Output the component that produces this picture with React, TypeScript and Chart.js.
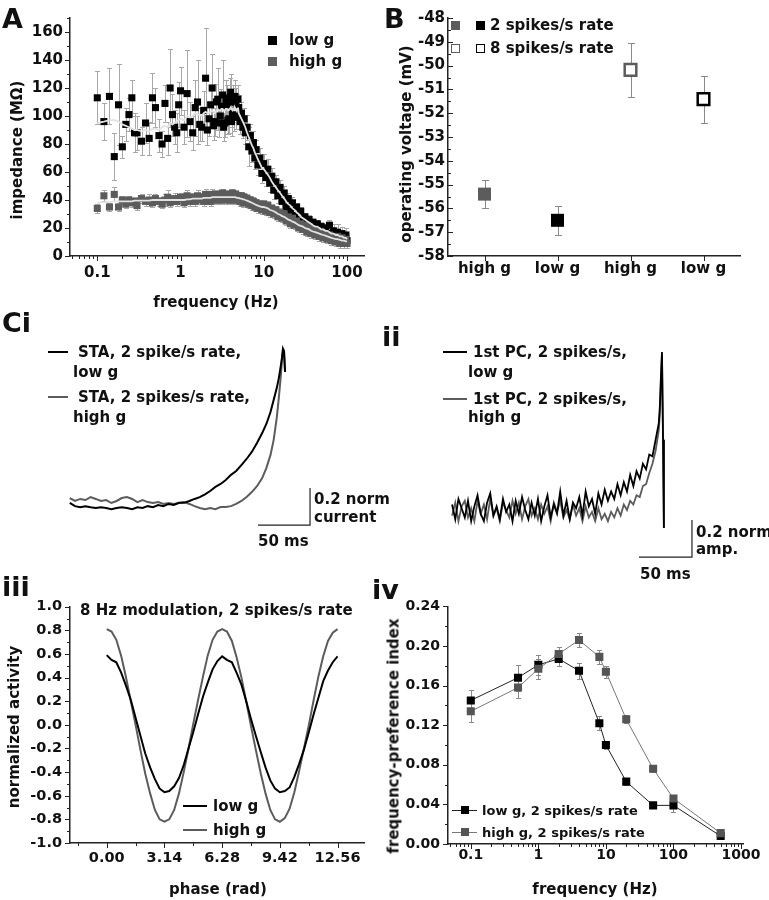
import React, { useEffect, useRef } from 'react';
import { Chart, registerables } from 'chart.js';

Chart.register(...registerables);

const FONT = 'DejaVu Sans';
const INK = '#111';
const GREY = '#5c5c5c';
const LIGHT = '#a8a8a8';

// ---------------- Panel A: impedance vs frequency ----------------
const freqA = [0.1,0.12,0.14,0.16,0.18,0.2,0.22,0.24,0.26,0.28,0.3,0.34,0.38,0.42,0.46,0.5,0.55,0.6,0.65,0.7,0.75,0.8,0.85,0.9,0.95,
  1.0,1.1,1.2,1.3,1.4,1.5,1.6,1.7,1.8,1.9,2.0,2.1,2.2,2.3,2.4,2.5,2.6,2.7,2.8,2.9,3.0,3.1,3.2,3.3,3.4,3.5,3.6,3.7,3.8,3.9,4.0,4.1,4.2,4.3,4.4,4.5,4.6,4.7,4.8,4.9,
  5.0,5.2,5.4,5.6,5.8,6.0,6.3,6.6,6.9,7.2,7.5,7.8,8.1,8.5,9.0,9.5,
  10,10.6,11.2,11.8,12.5,13.2,14,14.8,15.7,16.6,17.6,18.6,19.7,20.9,22.1,23.4,24.8,26.3,27.8,29.5,31.2,33,35,37,39,41.5,44,46.5,49,52,55,58,61.5,65,69,73,77,82,87,92,97,100];
const lowG = [113,96,114,71,108,78,94,101,113,88,88,82,95,84,113,106,86,80,109,84,120,101,92,88,108,
  118,92,116,96,88,106,110,94,92,104,127,90,98,108,120,93,96,110,112,95,100,107,115,92,95,112,108,97,98,113,117,96,102,110,99,114,110,100,106,112,
  106,96,102,92,98,88,92,78,86,75,81,70,76,65,70,59,
  66,56,62,52,57,47,53,43,49,39,45,35,41,32,38,29,35,26,32,23,28,23,26,21,24,19,23,18,21,17,20,16,22,14,18,13,17,12,16,11,15,11];
const lowGErr = [19,13,20,17,29,8,12,12,13,14,12,10,14,12,18,14,12,9,13,12,28,15,12,14,16,
  17,12,31,14,12,20,30,12,10,14,36,11,12,13,24,10,10,13,22,10,10,12,25,10,10,14,14,10,10,14,13,10,10,12,10,12,10,9,10,10,
  9,9,8,8,8,8,9,14,8,8,8,8,7,7,7,7,
  7,6,7,6,6,6,5,5,5,5,5,4,4,4,4,4,3,3,3,3,3,3,3,3,3,3,3,3,3,3,3,4,4,5,5,6,6,5,5,5,5,4];
const lowGMean = [95,96,97,97,96,94,93,92,91,90,90,89,90,89,91,91,90,92,93,92,95,94,95,96,97,
  98,97,100,99,100,102,101,101,100,102,103,102,102,103,104,103,102,104,105,104,104,105,105,104,104,105,105,104,104,105,106,105,104,105,104,106,105,104,105,106,
  102,100,98,96,94,92,88,85,82,79,77,74,72,69,66,63,
  62,60,58,56,53,51,49,47,45,43,41,39,37,36,34,33,31,30,28,27,26,25,24,23,22,21,21,20,19,19,18,18,17,16,16,15,15,14,14,13,13,12];
const highG = [34,43,35,44,35,40,37,40,38,39,36,41,39,40,38,41,39,37,40,42,38,40,41,39,41,
  42,38,43,39,42,39,43,40,42,39,44,40,43,39,44,41,44,40,43,40,44,40,45,41,43,40,44,41,43,40,44,41,45,40,43,41,44,40,43,41,
  43,39,43,38,42,38,41,37,40,36,39,35,38,34,37,33,
  37,32,36,31,34,30,33,28,31,27,30,25,28,23,27,22,25,20,23,19,22,17,21,16,19,15,18,14,17,13,16,12,15,11,14,10,14,9,13,9,12,9];
const highGErr = [3,4,3,5,3,3,3,3,3,3,3,3,3,4,3,3,3,3,4,5,3,3,4,3,3,
  3,3,4,3,3,3,4,3,3,3,4,3,3,3,4,3,3,3,4,3,3,3,3,4,3,3,3,3,4,3,3,3,3,3,4,3,3,3,3,3,
  3,3,3,3,3,3,3,3,3,3,3,3,3,3,3,3,
  3,3,3,3,3,3,3,3,3,3,3,3,3,3,3,3,3,3,3,3,3,3,3,3,3,3,3,3,3,3,3,3,3,3,3,3,3,3,3,3,3,3];
const highGMean = [38,38.5,38.5,39,39,39,39,39,39,39.5,39.5,39.5,39.5,39.5,40,40,40,40,40,40,40,40,40,40,40,
  40,40,40.5,40.5,41,41,41,41,41,41.5,41.5,41.5,41.5,41.5,42,42,42,42,42,42,42,42,42,42,42,42,42,42,42,42,42,42,42,42,42,42,42,41.5,41.5,41.5,
  41.5,41,41,40.5,40.5,40,39.5,39,38.5,38,37.5,37,36.5,36,35.5,35,
  35,34.5,34,33,32.5,32,31,30,29.5,28.5,28,27,26,25.5,24.5,24,23,22,21.5,21,20,19.5,19,18,17.5,17,16.5,16,15.5,15,14.5,14,13.5,13,12.5,12,12,11.5,11,11,10.5,10.5];
const aXTicks = [0.1, 1, 10, 100];
const aXMinor = [0.05,0.06,0.07,0.08,0.09,0.2,0.3,0.4,0.5,0.6,0.7,0.8,0.9,2,3,4,5,6,7,8,9,20,30,40,50,60,70,80,90];
const aYTicks = [0,20,40,60,80,100,120,140,160];
const aYMinor = [10,30,50,70,90,110,130,150,170];

// ---------------- Panel B: operating voltage ----------------
const bCats = ['high g', 'low g', 'high g', 'low g'];
const bRate2 = [-55.4, -56.5];
const bRate2Err = [0.6, 0.62];
const bRate8 = [-50.18, -51.41];
const bRate8Err = [1.12, 0.99];
const bYTicks = [-58,-57,-56,-55,-54,-53,-52,-51,-50,-49,-48];
const bYMinor = [-57.5,-56.5,-55.5,-54.5,-53.5,-52.5,-51.5,-50.5,-49.5,-48.5];
const bXTicks = [1, 2, 3, 4];

// ---------------- Panel Ci: STA ----------------
const tCi = [-205,-200,-195,-190,-185,-180,-175,-170,-165,-160,-155,-150,-145,-140,-135,-130,-125,-120,-115,-110,-105,-100,-95,-90,-85,-80,-75,-70,-65,-60,-55,-50,-45,-40,-35,-30,-25,-20,-16,-12,-9,-6,-4,-2,-1,0,1,2];
const staLow = [0.012,-0.006,-0.012,-0.006,-0.012,-0.016,-0.012,-0.016,-0.022,-0.016,
  -0.012,-0.016,-0.022,-0.012,-0.016,-0.006,-0.012,0,-0.006,0.006,
  0,0.012,0.012,0.022,0.033,0.043,0.058,0.076,0.098,0.114,
  0.135,0.163,0.184,0.216,0.249,0.287,0.335,0.389,0.438,0.503,
  0.567,0.632,0.686,0.756,0.795,0.843,0.827,0.719];
const staHigh = [0.038,0.022,0.033,0.027,0.043,0.033,0.022,0.027,0.011,0.022,
  0.038,0.043,0.033,0.016,0.027,0.016,0.011,0.016,0.006,0.011,
  0.006,0.011,0.016,0.006,-0.006,-0.016,-0.022,-0.016,-0.022,-0.011,
  -0.011,-0.006,0.006,0.022,0.043,0.07,0.102,0.146,0.2,0.271,
  0.351,0.471,0.579,0.703,0.783,0.843,0.837,0.719];
const barCi = [-24, -0.108, 50, 0.2]; // start ms, start norm, 50 ms, 0.2 norm

// ---------------- Panel ii: 1st PC ----------------
const tPc = [-198,-195,-192,-189,-186,-183,-180,-177,-174,-171,-168,-165,-162,-159,-156,-153,-150,-147,-144,-141,-138,-135,-132,-129,-126,-123,-120,-117,-114,-111,-108,-105,-102,-99,-96,-93,-90,-87,-84,-81,-78,-75,-72,-69,-66,-63,-60,-57,-54,-51,-48,-45,-42,-39,-36,-33,-30,-27,-24,-21,-18,-15,-12,-9,-6,-3,-2,-1,0,1,1.8];
const pcLow = [0.03,-0.05,0.06,0.01,-0.04,0.05,-0.06,0.02,0.08,-0.02,
  -0.06,0.04,0.09,-0.03,0.02,-0.05,0.06,-0.01,0.03,-0.06,
  0.05,-0.02,0.07,0.0,-0.05,0.04,-0.03,0.06,-0.06,0.02,
  0.08,-0.04,0.03,-0.02,0.1,-0.03,0.05,-0.05,0.04,0.01,
  0.07,-0.03,0.1,0.02,0.06,-0.02,0.09,0.03,0.11,0.05,
  0.1,0.06,0.14,0.08,0.15,0.1,0.19,0.13,0.21,0.17,
  0.25,0.22,0.3,0.29,0.38,0.47,0.56,0.72,0.854,0.38,-0.097];
const pcHigh = [-0.03,0.04,-0.06,0.02,0.05,-0.04,0.01,-0.06,0.05,-0.02,
  0.03,-0.05,0.06,-0.03,0.01,-0.06,0.04,0.0,-0.04,0.05,
  -0.02,0.04,-0.05,0.02,0.06,-0.03,0.01,-0.05,0.03,-0.02,
  0.02,-0.06,0.04,-0.01,0.05,-0.04,0.0,-0.05,0.03,-0.03,
  0.01,-0.06,0.02,-0.04,-0.01,-0.06,0.01,-0.05,-0.02,-0.06,
  -0.01,-0.04,0.01,-0.03,0.03,0.0,0.05,0.03,0.08,0.07,
  0.13,0.14,0.2,0.25,0.32,0.43,0.52,0.7,0.84,0.38,-0.097];
const barPc = [-21.7, -0.254, 50, 0.2];

// ---------------- Panel iii: 8 Hz modulation ----------------
const phase = [0,0.26,0.52,0.79,1.05,1.31,1.57,1.83,2.09,2.36,2.62,2.88,3.14,3.4,3.67,3.93,4.19,4.45,4.71,4.97,5.24,5.5,5.76,6.02,6.28,
  6.54,6.81,7.07,7.33,7.59,7.85,8.11,8.38,8.64,8.9,9.16,9.42,9.69,9.95,10.21,10.47,10.73,11.0,11.26,11.52,11.78,12.04,12.3,12.56];
const modHigh = [0.81,0.79,0.72,0.58,0.40,0.20,0.00,-0.21,-0.41,-0.58,-0.72,-0.80,-0.82,
  -0.80,-0.72,-0.58,-0.40,-0.20,0.01,0.21,0.41,0.59,0.72,0.79,0.81,
  0.79,0.71,0.57,0.40,0.20,-0.01,-0.21,-0.41,-0.58,-0.72,-0.80,-0.82,
  -0.79,-0.71,-0.57,-0.39,-0.20,0.00,0.21,0.41,0.58,0.71,0.78,0.81];
const modLow = [0.59,0.55,0.53,0.44,0.33,0.21,0.06,-0.09,-0.24,-0.36,-0.46,-0.54,-0.57,
  -0.56,-0.52,-0.45,-0.34,-0.20,-0.06,0.09,0.24,0.36,0.47,0.54,0.58,
  0.55,0.53,0.44,0.34,0.20,0.05,-0.09,-0.23,-0.36,-0.47,-0.54,-0.57,
  -0.56,-0.53,-0.44,-0.33,-0.21,-0.06,0.09,0.23,0.37,0.46,0.53,0.58];
const iiiXTicks = [0, 3.14, 6.28, 9.42, 12.56];
const iiiXMinor = [-1.57, 1.57, 4.71, 7.85, 10.99];
const iiiYTicks = [-1,-0.8,-0.6,-0.4,-0.2,0,0.2,0.4,0.6,0.8,1];
const iiiYMinor = [-0.9,-0.7,-0.5,-0.3,-0.1,0.1,0.3,0.5,0.7,0.9];

// ---------------- Panel iv: frequency-preference index ----------------
const ivFreq = [0.1,0.5,1,2,4,8,10,20,50,100,500];
const ivLow = [0.145,0.168,0.181,0.187,0.175,0.122,0.100,0.063,0.039,0.039,0.008];
const ivLowErr = [0.011,0.013,0.010,0.007,0.008,0.007,0.004,0.003,0.003,0.007,0.002];
const ivHigh = [0.134,0.158,0.177,0.192,0.206,0.189,0.174,0.126,0.076,0.046,0.011];
const ivHighErr = [0.011,0.011,0.010,0.007,0.007,0.007,0.006,0.004,0.003,0.004,0.002];
const ivXTicks = [0.1, 1, 10, 100, 1000];
const ivXMinor = [0.05,0.06,0.07,0.08,0.09,0.2,0.3,0.4,0.5,0.6,0.7,0.8,0.9,2,3,4,5,6,7,8,9,20,30,40,50,60,70,80,90,200,300,400,500,600,700,800,900];
const ivYTicks = [0,0.04,0.08,0.12,0.16,0.2,0.24];
const ivYMinor = [0.02,0.06,0.1,0.14,0.18,0.22];

// ---------------- helpers ----------------
const pts = (xs: number[], ys: number[]) => xs.map((x, i) => ({ x, y: ys[i] }));

const errorBars = {
  id: 'errorBars',
  beforeDatasetsDraw(chart: any) {
    const ctx = chart.ctx;
    chart.data.datasets.forEach((ds: any, i: number) => {
      if (!ds.errPlus) return;
      const meta = chart.getDatasetMeta(i);
      const xs = chart.scales[meta.xAxisID];
      const ys = chart.scales[meta.yAxisID];
      ctx.save();
      ctx.strokeStyle = ds.errColor || '#999';
      ctx.lineWidth = 1;
      const cap = ds.errCap ?? 3;
      ds.data.forEach((p: any, j: number) => {
        const up = ds.errPlus[j];
        const dn = (ds.errMinus || ds.errPlus)[j];
        const px = Math.round(xs.getPixelForValue(p.x)) + 0.5;
        const y1 = Math.round(ys.getPixelForValue(p.y + up)) + 0.5;
        const y2 = Math.round(ys.getPixelForValue(p.y - dn)) + 0.5;
        ctx.beginPath();
        ctx.moveTo(px, y1); ctx.lineTo(px, y2);
        ctx.moveTo(px - cap, y1); ctx.lineTo(px + cap, y1);
        ctx.moveTo(px - cap, y2); ctx.lineTo(px + cap, y2);
        ctx.stroke();
      });
      ctx.restore();
    });
  },
};

function tickPlugin(spec: any) {
  return {
    id: 'tickMarks',
    afterDraw(chart: any) {
      const ctx = chart.ctx;
      ctx.save();
      ctx.strokeStyle = '#222';
      ctx.lineWidth = 1;
      ['x', 'y'].forEach((ax) => {
        const s = spec[ax];
        if (!s) return;
        const sc = chart.scales[ax];
        const sign = s.inward ? -1 : 1;
        const put = (vals: number[], len: number) => vals.forEach((v) => {
          const p = sc.getPixelForValue(v);
          ctx.beginPath();
          if (ax === 'x') {
            const px = Math.round(p) + 0.5;
            const y0 = chart.chartArea.bottom;
            ctx.moveTo(px, y0); ctx.lineTo(px, y0 + sign * len);
          } else {
            const py = Math.round(p) + 0.5;
            const x0 = chart.chartArea.left;
            ctx.moveTo(x0, py); ctx.lineTo(x0 - sign * len, py);
          }
          ctx.stroke();
        });
        put(s.major, 5);
        put(s.minor || [], 3);
      });
      ctx.restore();
    },
  };
}

function scaleBarPlugin(bar: number[]) {
  return {
    id: 'scaleBar',
    afterDatasetsDraw(chart: any) {
      const { x, y } = chart.scales;
      const ctx = chart.ctx;
      const X0 = x.getPixelForValue(bar[0]);
      const X1 = x.getPixelForValue(bar[0] + bar[2]);
      const Y0 = y.getPixelForValue(bar[1]);
      const Y1 = y.getPixelForValue(bar[1] + bar[3]);
      ctx.save();
      ctx.strokeStyle = '#222';
      ctx.lineWidth = 1.2;
      ctx.beginPath();
      ctx.moveTo(X0, Y0); ctx.lineTo(X1, Y0); ctx.lineTo(X1, Y1);
      ctx.stroke();
      ctx.restore();
    },
  };
}

function axis(o: any) {
  return {
    type: o.type || 'linear',
    min: o.min,
    max: o.max,
    grid: { display: false, drawTicks: false },
    border: { display: true, color: '#222', width: 1.5 },
    ticks: {
      autoSkip: false, maxRotation: 0, minRotation: 0, padding: o.pad, color: INK,
      font: { family: FONT, size: o.size, weight: 'bold' },
      callback: (v: any, i: number) => o.fmt(v, i),
    },
    afterBuildTicks: (s: any) => { s.ticks = o.ticks.map((v: number) => ({ value: v })); },
    afterFit: (s: any) => {
      if (o.fitW != null) s.width = o.fitW;
      if (o.fitH != null) s.height = o.fitH;
    },
  };
}

function baseOptions(padding: any, scales: any) {
  return {
    responsive: false,
    animation: false,
    events: [],
    layout: { padding, autoPadding: false },
    plugins: { legend: { display: false }, tooltip: { enabled: false } },
    scales,
  };
}

const hidden = (min: number, max: number) => ({ type: 'linear', display: false, min, max });

// ---------------- chart configs ----------------
const cfgA = () => ({
  type: 'scatter',
  data: {
    datasets: [
      { label: 'low g mean', data: pts(freqA, lowGMean), showLine: true, pointRadius: 0, borderColor: '#e2e2e2', borderWidth: 1.8, order: 0 },
      { label: 'high g mean', data: pts(freqA, highGMean), showLine: true, pointRadius: 0, borderColor: '#e2e2e2', borderWidth: 1.8, order: 0 },
      { label: 'high g', data: pts(freqA, highG), pointStyle: 'rect', pointRadius: 5, backgroundColor: GREY, borderColor: GREY, borderWidth: 0, errPlus: highGErr, errColor: LIGHT, errCap: 2.5, order: 1 },
      { label: 'low g', data: pts(freqA, lowG), pointStyle: 'rect', pointRadius: 5, backgroundColor: '#000', borderColor: '#000', borderWidth: 0, errPlus: lowGErr, errColor: LIGHT, errCap: 2.5, order: 2 },
    ],
  },
  options: baseOptions({ top: 18, right: 16, left: 0, bottom: 0 }, {
    x: axis({ type: 'logarithmic', min: 0.047, max: 160, ticks: aXTicks, fmt: (v: number) => String(v), size: 15, pad: 8, fitH: 44 }),
    y: axis({ min: 0, max: 170, ticks: aYTicks, fmt: (v: number) => String(v), size: 15, pad: 7, fitW: 70 }),
  }),
  plugins: [errorBars, tickPlugin({ x: { major: aXTicks, minor: aXMinor }, y: { major: aYTicks, minor: aYMinor } })],
});

const cfgB = () => ({
  type: 'scatter',
  data: {
    datasets: [
      {
        label: '2 spikes/s rate', data: pts([1, 2], bRate2), pointStyle: 'rect', pointRadius: 9.2,
        backgroundColor: [GREY, '#000'], borderColor: [GREY, '#000'], borderWidth: 0,
        errPlus: bRate2Err, errColor: '#8a8a8a', errCap: 3.5,
      },
      {
        label: '8 spikes/s rate', data: pts([3, 4], bRate8), pointStyle: 'rect', pointRadius: 8.2,
        backgroundColor: '#fff', borderColor: [GREY, '#000'], borderWidth: 2.5,
        errPlus: bRate8Err, errColor: '#8a8a8a', errCap: 3.5,
      },
    ],
  },
  options: baseOptions({ top: 18, right: 29, left: 0, bottom: 0 }, {
    x: axis({ min: 0.5, max: 4.5, ticks: bXTicks, fmt: (_v: number, i: number) => bCats[i], size: 15, pad: 4, fitH: 44 }),
    y: axis({ min: -58, max: -48, ticks: bYTicks, fmt: (v: number) => String(v), size: 15, pad: 3, fitW: 68 }),
  }),
  plugins: [errorBars, tickPlugin({ x: { major: bXTicks }, y: { major: bYTicks, minor: bYMinor, inward: true } })],
});

const cfgCi = () => ({
  type: 'scatter',
  data: {
    datasets: [
      { label: 'STA, 2 spike/s rate, low g', data: pts(tCi, staLow), showLine: true, pointRadius: 0, borderColor: '#000', borderWidth: 2, order: 0 },
      { label: 'STA, 2 spikes/s rate, high g', data: pts(tCi, staHigh), showLine: true, pointRadius: 0, borderColor: GREY, borderWidth: 2, order: 1 },
    ],
  },
  options: baseOptions(0, { x: hidden(-214.4, 45.2), y: hidden(-0.297, 0.946) }),
  plugins: [scaleBarPlugin(barCi)],
});

const cfgPc = () => ({
  type: 'scatter',
  data: {
    datasets: [
      { label: '1st PC, 2 spikes/s, low g', data: pts(tPc, pcLow), showLine: true, pointRadius: 0, borderColor: '#000', borderWidth: 1.8, order: 0 },
      { label: '1st PC, 2 spikes/s, high g', data: pts(tPc, pcHigh), showLine: true, pointRadius: 0, borderColor: GREY, borderWidth: 1.8, order: 1 },
    ],
  },
  options: baseOptions(0, { x: hidden(-209.4, 45.3), y: hidden(-0.324, 0.973) }),
  plugins: [scaleBarPlugin(barPc)],
});

const cfgIii = () => ({
  type: 'scatter',
  data: {
    datasets: [
      { label: 'low g', data: pts(phase, modLow), showLine: true, pointRadius: 0, borderColor: '#000', borderWidth: 2, order: 0 },
      { label: 'high g', data: pts(phase, modHigh), showLine: true, pointRadius: 0, borderColor: GREY, borderWidth: 2, order: 1 },
    ],
  },
  options: baseOptions({ top: 16, right: 16, left: 0, bottom: 0 }, {
    x: axis({ min: -2.0, max: 14.0, ticks: iiiXTicks, fmt: (v: number) => v.toFixed(2), size: 14.5, pad: 7, fitH: 57 }),
    y: axis({ min: -1, max: 1, ticks: iiiYTicks, fmt: (v: number) => v.toFixed(1), size: 14.5, pad: 8, fitW: 70 }),
  }),
  plugins: [tickPlugin({ x: { major: iiiXTicks, minor: iiiXMinor }, y: { major: iiiYTicks, minor: iiiYMinor } })],
});

const cfgIv = () => ({
  type: 'scatter',
  data: {
    datasets: [
      {
        label: 'low g, 2 spikes/s rate', data: pts(ivFreq, ivLow), showLine: true, borderColor: '#222', borderWidth: 1,
        pointStyle: 'rect', pointRadius: 5.7, pointBackgroundColor: '#000', pointBorderColor: '#000', pointBorderWidth: 0,
        errPlus: ivLowErr, errColor: '#8a8a8a', errCap: 2.5, order: 1,
      },
      {
        label: 'high g, 2 spikes/s rate', data: pts(ivFreq, ivHigh), showLine: true, borderColor: '#777', borderWidth: 1,
        pointStyle: 'rect', pointRadius: 5.7, pointBackgroundColor: '#555', pointBorderColor: '#555', pointBorderWidth: 0,
        errPlus: ivHighErr, errColor: '#8a8a8a', errCap: 2.5, order: 0,
      },
    ],
  },
  options: baseOptions({ top: 13, right: 26, left: 0, bottom: 0 }, {
    x: axis({ type: 'logarithmic', min: 0.046, max: 1070, ticks: ivXTicks, fmt: (v: number) => String(v), size: 14, pad: 3, fitH: 56 }),
    y: axis({ min: 0, max: 0.24, ticks: ivYTicks, fmt: (v: number) => v.toFixed(2), size: 14, pad: 8, fitW: 68 }),
  }),
  plugins: [errorBars, tickPlugin({ x: { major: ivXTicks, minor: ivXMinor }, y: { major: ivYTicks, minor: ivYMinor } })],
});

// ---------------- components ----------------
function ChartBox({ left, top, width, height, make }: any) {
  const ref = useRef<HTMLCanvasElement>(null);
  useEffect(() => {
    const chart = new Chart(ref.current as any, make() as any);
    return () => chart.destroy();
  }, []);
  return (
    <canvas ref={ref} width={width} height={height}
      style={{ position: 'absolute', left, top, width, height, display: 'block' }} />
  );
}

function Txt({ x, y, s = 15, rot = false, center = false, children }: any) {
  const style: any = {
    position: 'absolute', left: x, top: y, fontFamily: FONT, fontWeight: 'bold', fontSize: s,
    lineHeight: `${s}px`, color: INK, whiteSpace: 'nowrap',
  };
  if (rot) style.transform = 'translate(-50%, -50%) rotate(-90deg)';
  else if (center) style.transform = 'translate(-50%, -50%)';
  else style.transform = 'translateY(-50%)';
  return <div style={style}>{children}</div>;
}

function HLine({ x1, x2, y, color, w = 1.5 }: any) {
  return <div style={{ position: 'absolute', left: x1, top: y - w / 2, width: x2 - x1, height: w, background: color }} />;
}

function Sq({ cx, cy, s, fill, stroke, bw = 0 }: any) {
  return (
    <div style={{
      position: 'absolute', left: cx - s / 2, top: cy - s / 2, width: s, height: s, boxSizing: 'border-box',
      background: fill, border: bw ? `${bw}px solid ${stroke}` : 'none',
    }} />
  );
}

export default function App() {
  return (
    <div style={{ position: 'absolute', left: 0, top: 0, width: 769, height: 900, background: '#fff', overflow: 'hidden' }}>
      <ChartBox left={0} top={0} width={380} height={300} make={cfgA} />
      <ChartBox left={380} top={0} width={389} height={300} make={cfgB} />
      <ChartBox left={60} top={330} width={270} height={230} make={cfgCi} />
      <ChartBox left={440} top={330} width={270} height={240} make={cfgPc} />
      <ChartBox left={0} top={590} width={380} height={310} make={cfgIii} />
      <ChartBox left={380} top={590} width={389} height={310} make={cfgIv} />

      {/* panel letters */}
      <Txt x={2} y={18} s={27}>A</Txt>
      <Txt x={384} y={18} s={27}>B</Txt>
      <Txt x={2} y={322} s={27}>Ci</Txt>
      <Txt x={382} y={336} s={27}>ii</Txt>
      <Txt x={2} y={586} s={27}>iii</Txt>
      <Txt x={372} y={589} s={27}>iv</Txt>

      {/* Panel A */}
      <Txt x={17} y={150} rot>impedance (MΩ)</Txt>
      <Txt x={216} y={302} center>frequency (Hz)</Txt>
      <Sq cx={272} cy={40} s={9} fill="#000" />
      <Txt x={289} y={40}>low g</Txt>
      <Sq cx={272} cy={61} s={9} fill={GREY} />
      <Txt x={289} y={61}>high g</Txt>

      {/* Panel B */}
      <Txt x={406} y={144} rot>operating voltage (mV)</Txt>
      <Sq cx={455.5} cy={25} s={9} fill={GREY} />
      <Sq cx={480.5} cy={25} s={9} fill="#000" />
      <Txt x={490} y={25}>2 spikes/s rate</Txt>
      <Sq cx={455.5} cy={48} s={9} fill="#fff" stroke={GREY} bw={1.5} />
      <Sq cx={480.5} cy={48} s={9} fill="#fff" stroke="#000" bw={1.5} />
      <Txt x={490} y={48}>8 spikes/s rate</Txt>

      {/* Panel Ci */}
      <HLine x1={48} x2={68} y={352} color="#000" />
      <Txt x={78} y={352}>STA, 2 spike/s rate,</Txt>
      <Txt x={73} y={372}>low g</Txt>
      <HLine x1={48} x2={68} y={397} color={GREY} />
      <Txt x={78} y={397}>STA, 2 spikes/s rate,</Txt>
      <Txt x={73} y={417}>high g</Txt>
      <Txt x={314} y={499}>0.2 norm</Txt>
      <Txt x={314} y={517}>current</Txt>
      <Txt x={258} y={541}>50 ms</Txt>

      {/* Panel ii */}
      <HLine x1={443} x2={467} y={352} color="#000" />
      <Txt x={473} y={352}>1st PC, 2 spikes/s,</Txt>
      <Txt x={468} y={372}>low g</Txt>
      <HLine x1={443} x2={467} y={399} color={GREY} />
      <Txt x={473} y={399}>1st PC, 2 spikes/s,</Txt>
      <Txt x={468} y={417}>high g</Txt>
      <Txt x={696} y={532}>0.2 norm</Txt>
      <Txt x={696} y={549}>amp.</Txt>
      <Txt x={640} y={574}>50 ms</Txt>

      {/* Panel iii */}
      <Txt x={14} y={727} rot>normalized activity</Txt>
      <Txt x={218} y={889} center>phase (rad)</Txt>
      <Txt x={80} y={610}>8 Hz modulation, 2 spikes/s rate</Txt>
      <HLine x1={183} x2={207} y={806} color="#000" />
      <Txt x={213} y={806}>low g</Txt>
      <HLine x1={183} x2={207} y={830} color={GREY} />
      <Txt x={213} y={830}>high g</Txt>

      {/* Panel iv */}
      <Txt x={394} y={736} rot>frequency-preference index</Txt>
      <Txt x={595} y={889} center>frequency (Hz)</Txt>
      <HLine x1={452} x2={477} y={810} color="#222" w={1} />
      <Sq cx={465} cy={810} s={8} fill="#000" />
      <Txt x={482} y={810} s={13}>low g, 2 spikes/s rate</Txt>
      <HLine x1={452} x2={477} y={832} color="#777" w={1} />
      <Sq cx={465} cy={832} s={8} fill="#555" />
      <Txt x={482} y={832} s={13}>high g, 2 spikes/s rate</Txt>
    </div>
  );
}
